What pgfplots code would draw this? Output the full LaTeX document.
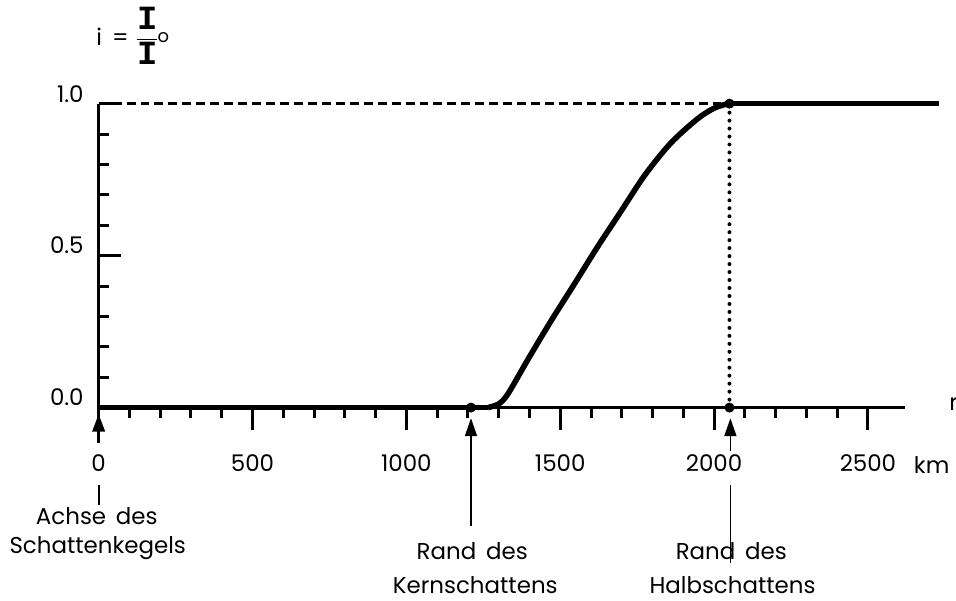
\documentclass[border=0pt]{standalone}
\usepackage{pgfplots}
\pgfplotsset{compat=1.18}
\usetikzlibrary{arrows.meta}
\usepackage{fontspec}
\setmainfont{Poppins}[WordSpace=1.6]
\newfontfamily\slabfont{Liberation Mono}
\newcommand\bigI{\hbox{\slabfont\bfseries\fontsize{17}{17}\selectfont I}}
\begin{document}
\begin{tikzpicture}[font=\fontsize{11.5}{13}\selectfont]
\begin{axis}[
  x=0.1544pt, y=152.5pt,
  xmin=0, xmax=2620, ymin=0, ymax=1,
  axis x line=bottom, axis y line=left,
  axis line style={-, line width=1.6pt},
  clip=false,
  xtick={0,500,...,2500},
  minor xtick={100,200,...,2400},
  ytick={0,0.5,1},
  minor ytick={0.1,0.2,...,0.9},
  xtick align=outside, ytick align=inside,
  major tick length=11pt, minor tick length=5pt,
  every tick/.style={black, line width=1.5pt},
  /pgf/number format/assume math mode=true,
  xticklabel style={anchor=center, yshift=-17pt, /pgf/number format/set thousands separator={}},
  yticklabel style={yshift=5pt, xshift=-4pt, /pgf/number format/fixed, /pgf/number format/fixed zerofill, /pgf/number format/precision=1},
]
% Bezugslinien
\addplot[black, line width=1.3pt, dash pattern=on 4.5pt off 2.5pt] coordinates {(0,1) (2050,1)};
\addplot[black, line width=2pt, line cap=round, dash pattern=on 0pt off 4pt] coordinates {(2050,0) (2050,1)};
% Intensitaetsverlauf
\addplot[black, line width=2.8pt, line join=round] coordinates {(0,0) (1265,0)};
\addplot[black, line width=2.8pt, smooth, tension=0.5] coordinates {
(1265,0) (1300,0.012) (1330,0.045) (1396,0.16)
(1470,0.285) (1548,0.41) (1622,0.53) (1697,0.645) (1775,0.765) (1859,0.87)
(1946,0.95) (2000,0.985) (2045,1.0)};
\addplot[black, line width=2.8pt, line join=round] coordinates {(2045,1) (2730,1)};
\addplot[black, only marks, mark=*, mark size=2.3pt] coordinates {(1210,0) (2050,1) (2050,0)};
% Pfeile und Beschriftungen
\draw[line width=1.8pt, -{Triangle[length=9pt, width=6pt]}] (axis cs:0,-0.118) -- (axis cs:0,-0.02);
\draw[line width=0.9pt] (axis cs:0,-0.256) -- (axis cs:0,-0.321);
\draw[line width=0.9pt, -{Triangle[length=9pt, width=6pt]}] (axis cs:1210,-0.390) -- (axis cs:1210,-0.035);
\draw[line width=0.9pt, -{Triangle[length=9pt, width=6pt]}] (axis cs:2053,-0.144) -- (axis cs:2053,-0.035);
\draw[line width=0.9pt] (axis cs:2053,-0.256) -- (axis cs:2053,-0.511);
\node at (axis cs:-6,-0.357) {Achse des};
\node at (axis cs:-3,-0.462) {Schattenkegels};
\node at (axis cs:1214,-0.472) {Rand des};
\node at (axis cs:1224,-0.584) {Kernschattens};
\node at (axis cs:2056,-0.472) {Rand des};
\node at (axis cs:2060,-0.584) {Halbschattens};
\node at (axis cs:2707,-0.190) {km};
\node[overlay, anchor=west] at (axis cs:2742,0.013) {r};
\node[anchor=west] at (axis cs:-30,1.222) {i\hspace{5pt}=\hspace{3pt}$\displaystyle\frac{\bigI}{\bigI}$\hspace{-1pt}\raisebox{0.3ex}{\small o}};
% Bildrahmen
\path (axis cs:-320.6,-0.6197) rectangle (axis cs:2775.3,1.341);
\end{axis}
\end{tikzpicture}
\end{document}
